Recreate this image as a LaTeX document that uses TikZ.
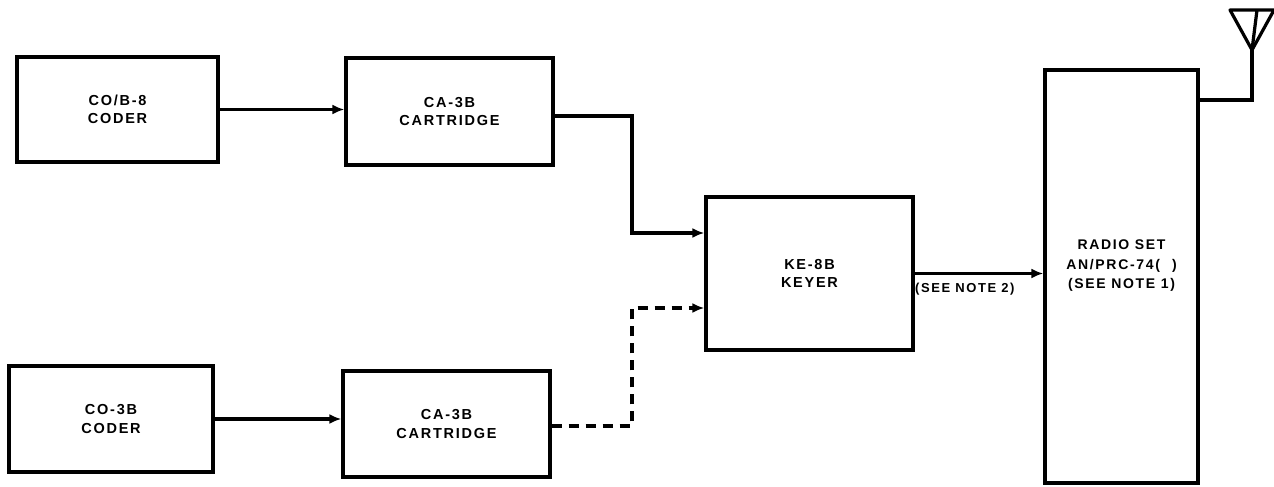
\documentclass[tikz,border=0pt]{standalone}
\usepackage{fontspec}
\setmainfont{Liberation Sans}[LetterSpace=12]
\usetikzlibrary{arrows.meta}
\begin{document}
\begin{tikzpicture}[x=1pt,y=-1pt,
  blk/.style={draw,line width=3.2pt,inner sep=0pt,align=center,
    font=\bfseries\fontsize{14.5}{18.5}\selectfont},
  lbl/.style={inner sep=0pt,align=center,font=\bfseries\fontsize{14}{19.5}\selectfont},
  conn/.style={line width=3.2pt,-{Latex[length=12pt,width=10pt]}},
  wire/.style={line width=3.2pt}]
\useasboundingbox (0,0) rectangle (1274,487);
\node[blk,minimum width=201pt,minimum height=105pt] (cod1) at (117.5,109.5) {CO/B-8\\CODER};
\node[blk,minimum width=207pt,minimum height=107pt] (car1) at (449.5,111.5) {CA-3B\\CARTRIDGE};
\node[blk,minimum width=204pt,minimum height=106pt] (cod2) at (111,419) {CO-3B\\CODER};
\node[blk,minimum width=207pt,minimum height=106pt] (car2) at (446.5,424) {CA-3B\\CARTRIDGE};
\node[blk,minimum width=207pt,minimum height=153pt] (key) at (809.5,273.5) {KE-8B\\KEYER};
\node[blk,minimum width=153pt,minimum height=413pt] (rad) at (1121.5,276.5) {};
\node[lbl] (radtxt) at (1121.5,266) {RADIO SET\\AN/PRC-74(\hspace{12pt})\\(SEE NOTE 1)};
\node[lbl,anchor=north west,font=\bfseries\fontsize{13}{14}\selectfont] (note2) at (915,283) {(SEE NOTE 2)};
\coordinate (j1) at (632,233);
\coordinate (j2) at (632,308);
\coordinate (ant) at (1252,50);
\coordinate (antc) at (1252,100);
\draw[conn] (cod1.east) -- (cod1.east -| car1.west);
\draw[conn] (cod2.east) -- (cod2.east -| car2.west);
\draw[conn] ([yshift=-4.5pt]car1.east) -| (j1) -- (j1 -| key.west);
\draw[conn,dash pattern=on 10pt off 7pt] ([yshift=-2pt]car2.east) -| (j2) -- (j2 -| key.west);
\draw[conn] (key.east) -- (key.east -| rad.west);
\draw[wire] (antc -| rad.east) -- (antc) -- (ant);
\draw[wire,line join=round] (1230,10) -- (1274,10) -- (ant) -- cycle;
\draw[wire] (1257,10) -- (ant);
\end{tikzpicture}
\end{document}
